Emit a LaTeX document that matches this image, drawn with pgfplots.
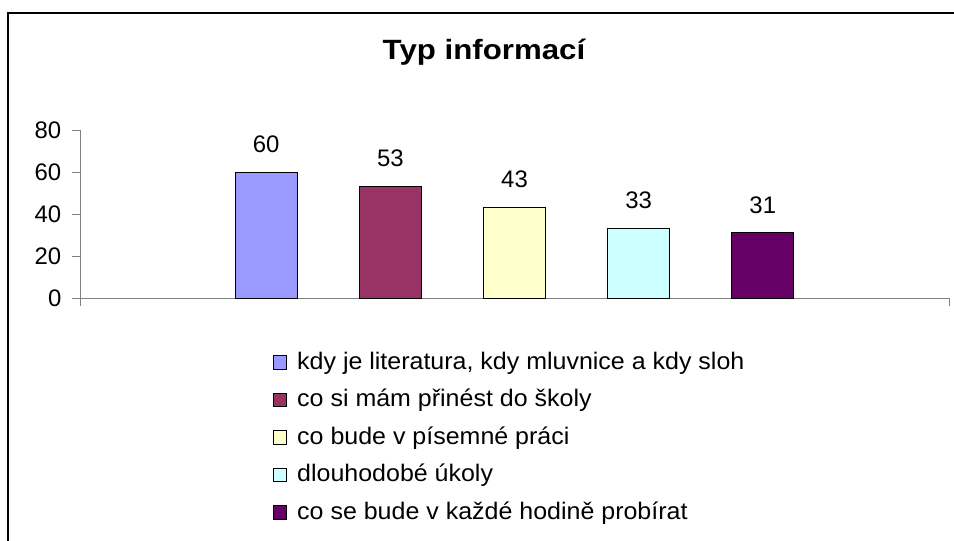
\documentclass[border=0pt]{standalone}
\usepackage{fontspec}
\setmainfont{Liberation Sans}
\newfontfamily\titlefont[FakeStretch=1.12]{Liberation Sans Bold}
\newfontfamily\legfont[FakeStretch=1.045]{Liberation Sans}
\usepackage{pgfplots}
\pgfplotsset{compat=1.18}
\definecolor{c1}{HTML}{9999FF}
\definecolor{c2}{HTML}{993366}
\definecolor{c3}{HTML}{FFFFCC}
\definecolor{c4}{HTML}{CCFFFF}
\definecolor{c5}{HTML}{660066}
\begin{document}
\begin{tikzpicture}
\useasboundingbox (0,0) rectangle (954bp,-541bp);
\fill[white] (0,0) rectangle (954bp,-541bp);
\draw[line width=1.3bp] (8bp,-545bp) -- (8bp,-13bp) -- (958bp,-13bp);
\node[anchor=base, inner sep=0pt, font=\titlefont\fontsize{28}{32}\selectfont] at (484bp,-59bp) {Typ informací};
\begin{axis}[
  at={(80bp,-298bp)}, anchor=south west,
  width=869bp, height=168bp, scale only axis,
  xmin=-1.5, xmax=5.5, ymin=0, ymax=80,
  axis x line*=bottom, axis y line*=left,
  axis line style={draw=gray, line width=1bp, -},
  ytick={0,20,...,80}, xtick={-1.5,5.5}, xticklabels={},
  tick align=outside, major tick length=7.5bp,
  tick style={draw=gray, line width=1bp},
  ticklabel style={font=\fontsize{24}{24}\selectfont},
  /pgf/number format/assume math mode=true,
  yticklabel style={inner sep=0pt, xshift=-11bp},
  ybar, bar width=0.5, bar shift=0pt,
  nodes near coords,
  every node near coord/.append style={font=\fontsize{24}{24}\selectfont, anchor=south, inner sep=0pt, yshift=19bp},
  legend image code/.code={\draw[#1, draw=black, line width=1bp] (0bp,0bp) rectangle (13bp,13.5bp); \path (23bp,0bp);},
  legend style={at={(axis description cs:0.2221,-0.3155)}, anchor=north west, draw=none, fill=none, inner sep=0pt, row sep=14.5bp, font=\legfont\fontsize{24}{24}\selectfont, nodes={inner sep=0pt, text height=18bp, text depth=5bp, anchor=base west}},
  legend cell align=left,
  clip=false,
]
\addplot[fill=c1, draw=black, line width=1bp] coordinates {(0,60)};
\addplot[fill=c2, draw=black, line width=1bp] coordinates {(1,53)};
\addplot[fill=c3, draw=black, line width=1bp] coordinates {(2,43)};
\addplot[fill=c4, draw=black, line width=1bp] coordinates {(3,33)};
\addplot[fill=c5, draw=black, line width=1bp] coordinates {(4,31)};
\legend{{kdy je literatura, kdy mluvnice a kdy sloh}, {co si mám přinést do školy}, {co bude v písemné práci}, {dlouhodobé úkoly}, {co se bude v každé hodině probírat}}
\end{axis}
\end{tikzpicture}
\end{document}
